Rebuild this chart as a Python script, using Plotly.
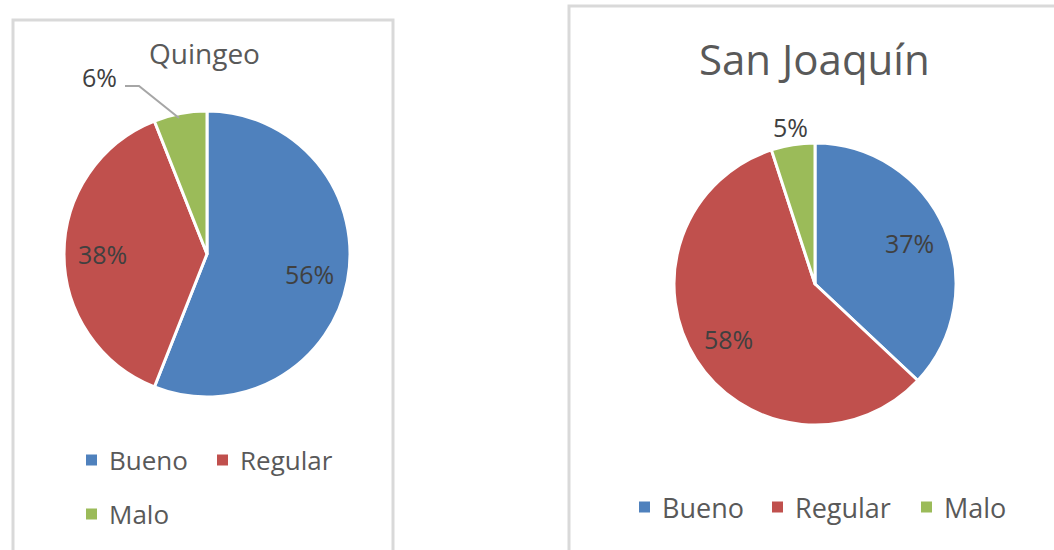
import math
import plotly.graph_objects as go

W, H = 1054, 550

categories = ["Bueno", "Regular", "Malo"]
colors = ["#4f81bd", "#c0504d", "#9bbb59"]

quingeo_title = "Quingeo"
quingeo_values = [56, 38, 6]

sanjoaquin_title = "San Joaquín"
sanjoaquin_values = [37, 58, 5]

FONT = "Open Sans"
TEXT_GRAY = "#595959"
LABEL_GRAY = "#404040"
LABEL_SIZE = 25


def fx(px):
    return px / W


def fy(py):
    return 1 - py / H


def pie_domain(cx, cy, r):
    return dict(x=[fx(cx - r), fx(cx + r)], y=[fy(cy + r), fy(cy - r)])


def pct(v):
    return f"{v}%"


def slice_label_xy(values, i, cx, cy, r, frac):
    """Pixel position along the bisector of slice i (clockwise from 12 o'clock)."""
    total = sum(values)
    start = sum(values[:i]) / total * 360
    mid = math.radians(start + values[i] / total * 180)
    return cx + frac * r * math.sin(mid), cy - frac * r * math.cos(mid)


shapes = []
annotations = []


def text_at(text, px, py, size, color, **kw):
    annotations.append(dict(text=text, x=fx(px), y=fy(py), xref="paper", yref="paper",
                            xanchor=kw.get("xanchor", "center"), yanchor="middle",
                            showarrow=False, font=dict(family=FONT, size=size, color=color)))


fig = go.Figure()

pies = [
    (quingeo_values, 207, 254, 143),
    (sanjoaquin_values, 815, 284, 141),
]

for values, cx, cy, r in pies:
    fig.add_trace(go.Pie(
        labels=categories, values=values, sort=False,
        direction="clockwise", rotation=0,
        marker=dict(colors=colors, line=dict(color="white", width=3)),
        textinfo="none",
        domain=pie_domain(cx, cy, r), showlegend=False, hoverinfo="label+percent",
    ))
    # percentage labels for the two large slices, placed along each slice bisector
    for i in range(2):
        lx, ly = slice_label_xy(values, i, cx, cy, r, 0.73)
        text_at(pct(values[i]), lx, ly, LABEL_SIZE, LABEL_GRAY)

# chart frames
border = dict(color="#d9d9d9", width=3)
shapes.append(dict(type="rect", xref="paper", yref="paper",
                   x0=fx(13), x1=fx(393), y0=fy(560), y1=fy(20), line=border))
shapes.append(dict(type="rect", xref="paper", yref="paper",
                   x0=fx(569), x1=fx(1070), y0=fy(560), y1=fy(6), line=border))

# titles
text_at(quingeo_title, 204, 53, 28, TEXT_GRAY)
text_at(sanjoaquin_title, 814, 58, 42, TEXT_GRAY)

# small "Malo" slices: Quingeo label with leader line, San Joaquín label just outside
text_at(pct(quingeo_values[2]), 99, 77, LABEL_SIZE, LABEL_GRAY)
shapes.append(dict(type="path", xref="paper", yref="paper",
                   path=f"M {fx(125)} {fy(86)} L {fx(139)} {fy(86)} L {fx(179)} {fy(118)}",
                   line=dict(color="#a6a6a6", width=2)))
mx, my = slice_label_xy(sanjoaquin_values, 2, 815, 284, 141, 1.13)
text_at(pct(sanjoaquin_values[2]), mx, my, LABEL_SIZE, LABEL_GRAY)


def legend_entry(sq_x, sq_y, label, color, size):
    shapes.append(dict(type="rect", xref="paper", yref="paper",
                       x0=fx(sq_x), x1=fx(sq_x + 11), y0=fy(sq_y + 5.5), y1=fy(sq_y - 5.5),
                       fillcolor=color, line=dict(width=0)))
    text_at(label, sq_x + 21, sq_y, size, TEXT_GRAY, xanchor="left")


# Quingeo legend: two entries on the first row, one on the second
legend_entry(86, 460, categories[0], colors[0], 26)
legend_entry(217, 460, categories[1], colors[1], 26)
legend_entry(86, 514, categories[2], colors[2], 26)

# San Joaquín legend: single row
legend_entry(639, 507, categories[0], colors[0], 27)
legend_entry(772, 507, categories[1], colors[1], 27)
legend_entry(921, 507, categories[2], colors[2], 27)

fig.update_layout(
    width=W, height=H,
    margin=dict(l=0, r=0, t=0, b=0),
    paper_bgcolor="white", plot_bgcolor="white",
    shapes=shapes, annotations=annotations,
    showlegend=False,
)

fig.write_html("out.html")
